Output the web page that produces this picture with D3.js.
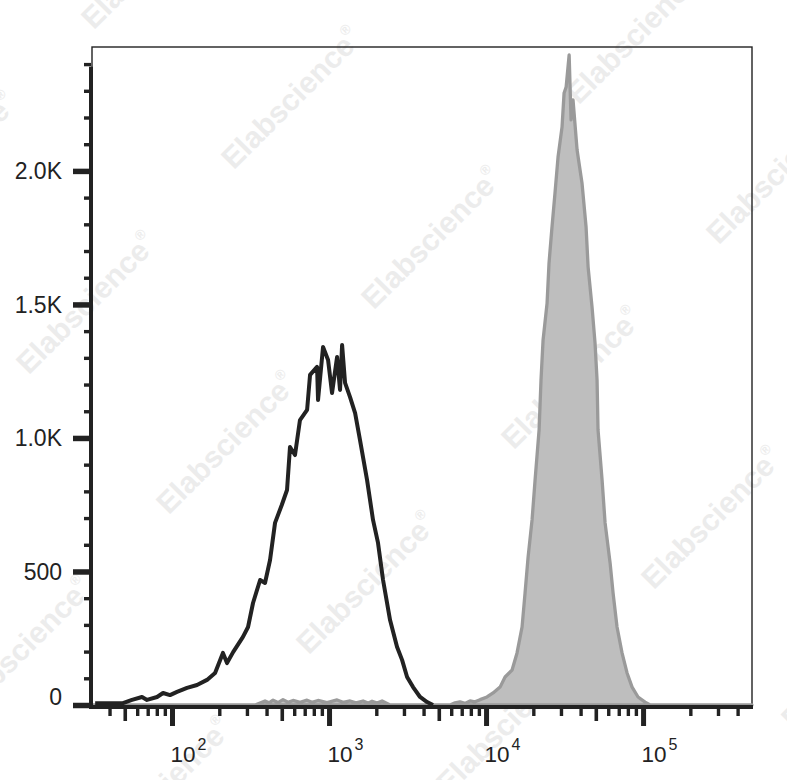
<!DOCTYPE html>
<html>
<head>
<meta charset="utf-8">
<script src="https://cdn.jsdelivr.net/npm/d3@7"></script>
<style>
  html, body { margin: 0; padding: 0; background: #fff; }
  svg { display: block; }
  text { font-family: "Liberation Sans", Arial, Helvetica, sans-serif; }
</style>
</head>
<body>
<div id="chart"></div>
<script>
// ---------- data ----------
// unstained / control (black outline) : fluorescence value, event count
const blackX = [32.4, 40.3, 48.7, 55.6, 64.4, 69.3, 80.3, 87.7, 97.1, 107.6, 124.6, 144.3, 167, 188, 211, 224, 245, 283, 305, 328, 364, 391, 421, 453, 500, 540, 564, 607, 653, 725, 757, 839, 851, 916, 986, 1045, 1125, 1175, 1211, 1265, 1361, 1466, 1575, 1746, 1906, 2051, 2208, 2447, 2712, 2918, 3141, 3428, 3800, 4210, 4595];
const blackY = [7, 7, 7, 19, 30, 19, 30, 45, 37, 49, 64, 75, 94, 120, 195, 157, 198, 255, 292, 382, 468, 457, 543, 682, 749, 805, 966, 936, 1067, 1105, 1236, 1266, 1142, 1341, 1292, 1168, 1303, 1180, 1348, 1206, 1153, 1093, 992, 843, 693, 607, 468, 318, 217, 169, 105, 67, 30, 11, 0];

// stained sample (grey filled)
const grayX = [31, 130, 338, 391, 415, 440, 473, 509, 548, 590, 654, 724, 779, 851, 971, 1125, 1228, 1361, 1486, 1647, 1772, 1879, 2022, 2177, 2447, 5900, 6345, 6823, 7340, 7907, 8500, 9161, 10142, 11083, 12285, 13218, 14648, 15751, 16954, 17713, 18523, 19634, 20524, 21767, 22387, 23075, 24469, 25177, 26303, 27479, 28739, 30479, 31405, 32359, 33819, 34780, 35800, 38000, 40830, 43350, 44670, 47320, 49430, 50930, 51660, 54810, 57290, 61660, 64420, 68260, 73450, 79070, 85110, 92900, 103000, 110900, 119200, 494000];
const grayY = [0, 0, 0, 15, 8, 18, 9, 20, 10, 17, 10, 18, 10, 17, 9, 19, 10, 15, 8, 15, 7, 14, 7, 15, 0, 0, 8, 12, 6, 15, 12, 20, 30, 45, 67, 105, 131, 195, 292, 419, 554, 693, 843, 1030, 1217, 1367, 1505, 1655, 1790, 1917, 2052, 2165, 2292, 2314, 2434, 2191, 2266, 2078, 1955, 1790, 1640, 1490, 1356, 1217, 1030, 843, 682, 532, 419, 292, 195, 120, 67, 30, 11, 0, 0, 0];

// axis ticks
const yMajorTicks = [0, 500, 1000, 1500, 2000];
const yTickLabels = ["0", "500", "1.0K", "1.5K", "2.0K"];
const yMinorTicks = [100, 200, 300, 400, 600, 700, 800, 900, 1100, 1200, 1300, 1400, 1600, 1700, 1800, 1900, 2100, 2200, 2300, 2400];
const xMajorTicks = [100, 1000, 10000, 100000];
const xTickExponents = ["2", "3", "4", "5"];
const xMediumTicks = [50, 500, 5000, 50000];
const xMinorTicks = [40, 60, 70, 80, 90, 200, 300, 400, 600, 700, 800, 900, 2000, 3000, 4000, 6000, 7000, 8000, 9000, 20000, 30000, 40000, 60000, 70000, 80000, 90000, 200000, 300000, 400000];
const watermarkText = "Elabscience";

(function () {
// ---------- layout ----------
const W = 787, H = 780;
const pL = 92, pR = 752, pT = 47, pB = 705;
const axisY = 707;

const svg = d3.select("#chart").append("svg").attr("width", W).attr("height", H);

const x = d3.scaleLog().domain([30.93, 494000]).range([pL, pR]);
const y = d3.scaleLinear().domain([0, 2464]).range([pB, pT]);

// watermark lattice (faint, behind the data)
const wmG = svg.append("g");
const base = [293, 100], u = [140, 140], v = [-205, 205];
for (let j = -1; j <= 2; j++) {
  for (let i = -2; i <= 5; i++) {
    const cx = base[0] + i * u[0] + j * v[0];
    const cy = base[1] + i * u[1] + j * v[1];
    if (cx < -120 || cx > W + 120 || cy < -120 || cy > H + 120) continue;
    const t = wmG.append("text")
      .attr("transform", `translate(${cx},${cy}) rotate(-45)`)
      .attr("text-anchor", "middle")
      .attr("dominant-baseline", "middle")
      .attr("font-size", 30)
      .attr("font-weight", "bold")
      .attr("fill", "#ececec");
    t.append("tspan").text(watermarkText);
    t.append("tspan").attr("font-size", 14).attr("dy", -12).text("®");
  }
}

// frame
svg.append("rect")
  .attr("x", pL).attr("y", pT)
  .attr("width", pR - pL).attr("height", axisY - pT)
  .attr("fill", "none").attr("stroke", "#222").attr("stroke-width", 1.4);

// grey filled histogram
const grayData = grayX.map((d, i) => [d, grayY[i]]);
svg.append("path")
  .datum(grayData)
  .attr("d", d3.area().x(d => x(d[0])).y0(y(0)).y1(d => y(d[1])))
  .attr("fill", "#bebebe")
  .attr("stroke", "#9a9a9a")
  .attr("stroke-width", 3.3)
  .attr("stroke-linejoin", "round");

// black outline histogram
const blackData = blackX.map((d, i) => [d, blackY[i]]);
svg.append("path")
  .datum(blackData)
  .attr("d", d3.line().x(d => x(d[0])).y(d => y(d[1])))
  .attr("fill", "none")
  .attr("stroke", "#222")
  .attr("stroke-width", 4)
  .attr("stroke-linejoin", "round");

// ---------- axes ----------
const ax = svg.append("g").attr("class", "axes");

function xTicks(vals, size, width) {
  const g = ax.append("g").attr("transform", `translate(0,${axisY + 2})`)
    .call(d3.axisBottom(x).tickValues(vals).tickSize(size).tickFormat(""));
  g.select(".domain").remove();
  g.selectAll(".tick line").attr("stroke", "#222").attr("stroke-width", width);
  return g;
}
xTicks(xMinorTicks, 7, 3.4);
xTicks(xMediumTicks, 12, 3.6);
xTicks(xMajorTicks, 17, 5);

xMajorTicks.forEach((val, i) => {
  const t = ax.append("text")
    .attr("x", x(val) - 1.5)
    .attr("y", 762)
    .attr("font-size", 22.5)
    .attr("fill", "#222");
  t.append("tspan").text("10");
  t.append("tspan").attr("font-size", 16).attr("dx", 2).attr("dy", -12).text(xTickExponents[i]);
});

function yTicks(vals, size, width) {
  const g = ax.append("g").attr("transform", `translate(${pL - 1},0)`)
    .call(d3.axisLeft(y).tickValues(vals).tickSize(size).tickFormat(""));
  g.select(".domain").remove();
  g.selectAll(".tick line").attr("stroke", "#222").attr("stroke-width", width);
  return g;
}
yTicks(yMinorTicks, 7, 3.4);
yTicks(yMajorTicks, 18, 5.5);

yMajorTicks.forEach((val, i) => {
  ax.append("text")
    .attr("x", 62)
    .attr("y", y(val) + (val === 0 ? -8 : 0))
    .attr("dy", "0.36em")
    .attr("text-anchor", "end")
    .attr("font-size", 23)
    .attr("fill", "#222")
    .text(yTickLabels[i]);
});

ax.append("line")
  .attr("x1", pL - 1).attr("x2", pL - 1)
  .attr("y1", y(2390)).attr("y2", axisY + 2)
  .attr("stroke", "#222").attr("stroke-width", 4);
ax.append("line")
  .attr("x1", pL - 3).attr("x2", pR + 1)
  .attr("y1", axisY).attr("y2", axisY)
  .attr("stroke", "#222").attr("stroke-width", 4);
})();
</script>
</body>
</html>
